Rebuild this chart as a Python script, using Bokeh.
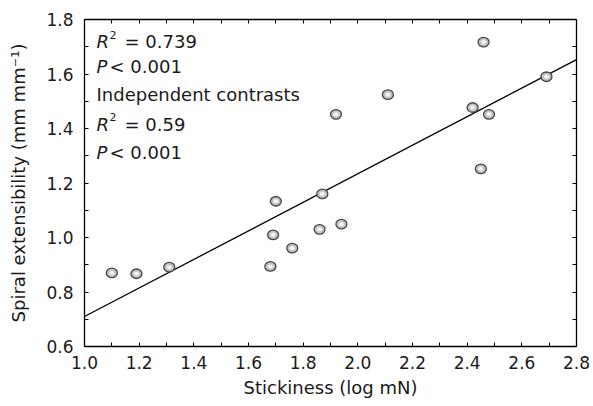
from bokeh.plotting import figure
from bokeh.models import (Range1d, LinearAxis, FixedTicker, PrintfTickFormatter,
                          Label, CustomJSTickFormatter)
from bokeh.embed import file_html
from bokeh.resources import INLINE

# Data
stickiness = [1.10, 1.19, 1.31, 1.70, 1.69, 1.68, 1.76, 1.87, 1.86, 1.94,
              2.46, 2.69, 2.42, 2.48, 2.11, 1.92, 2.45]
extensibility = [0.870, 0.867, 0.891, 1.133, 1.010, 0.894, 0.961, 1.160, 1.030, 1.049,
                 1.717, 1.590, 1.477, 1.452, 1.524, 1.452, 1.252]
fit_x = [1.0, 2.8]
fit_y = [0.710, 1.653]
x_ticks = [1.0, 1.2, 1.4, 1.6, 1.8, 2.0, 2.2, 2.4, 2.6, 2.8]
x_minor = [1.1, 1.3, 1.5, 1.7, 1.9, 2.1, 2.3, 2.5, 2.7]
y_ticks = [0.6, 0.8, 1.0, 1.2, 1.4, 1.6, 1.8]
y_minor = [0.7, 0.9, 1.1, 1.3, 1.5, 1.7]

FONT = "DejaVu Sans"
TXT = "#1a1a1a"

p = figure(width=593, height=406, output_backend="svg", toolbar_location=None,
           x_range=Range1d(1.0, 2.8), y_range=Range1d(0.6, 1.8),
           min_border_left=84, min_border_right=17, min_border_top=19, min_border_bottom=60,
           x_axis_label="Stickiness (log mN)",
           y_axis_label="Spiral extensibility (mm mm\u207b\u00b9)")
p.grid.visible = False
p.outline_line_color = None
p.background_fill_color = "white"
p.border_fill_color = "white"

p.xaxis.ticker = FixedTicker(ticks=x_ticks, minor_ticks=x_minor)
p.yaxis.ticker = FixedTicker(ticks=y_ticks, minor_ticks=y_minor)
p.xaxis.formatter = PrintfTickFormatter(format="%.1f")
p.yaxis.formatter = PrintfTickFormatter(format="%.1f")

def style(ax):
    ax.axis_line_color = "black"
    ax.axis_line_width = 1.3
    ax.major_tick_in = 4
    ax.major_tick_out = 0
    ax.minor_tick_in = 4
    ax.minor_tick_out = 0
    ax.major_tick_line_color = "black"
    ax.minor_tick_line_color = "black"
    ax.major_tick_line_width = 1
    ax.minor_tick_line_width = 1
    ax.major_label_text_font = FONT
    ax.major_label_text_font_size = "17px"
    ax.major_label_text_color = TXT
    ax.axis_label_text_font = FONT
    ax.axis_label_text_font_size = "18px"
    ax.axis_label_text_font_style = "normal"
    ax.axis_label_text_color = TXT

for ax in p.xaxis + p.yaxis:
    style(ax)
p.xaxis.major_label_standoff = 9
p.xaxis.axis_label_standoff = 5
p.yaxis.major_label_standoff = 11
p.yaxis.axis_label_standoff = 14

blank = CustomJSTickFormatter(code="return ''")
top = LinearAxis(ticker=FixedTicker(ticks=x_ticks, minor_ticks=x_minor), formatter=blank)
right = LinearAxis(ticker=FixedTicker(ticks=y_ticks, minor_ticks=y_minor), formatter=blank)
for ax in (top, right):
    style(ax)
    ax.major_label_standoff = 0
p.add_layout(top, "above")
p.add_layout(right, "right")

# regression line
p.line(fit_x, fit_y, line_color="black", line_width=1.3)

# shaded points
p.ellipse(stickiness, extensibility, width=11, height=9.5, width_units="screen",
          height_units="screen", fill_color="#c4c4c4", line_color="#444444", line_width=1.3)
p.ellipse(stickiness, extensibility, width=5, height=4, width_units="screen",
          height_units="screen", fill_color="#f6f6f6", line_color=None)

# annotations (positions in pixels relative to frame origin)
def px2x(px):
    return 1.0 + (px - 84) / 273.3

def py2y(py):
    return 1.8 - (py - 19) / 272.5

def lab(text, px, py, size="18px", italic=False):
    p.add_layout(Label(x=px2x(px), y=py2y(py), text=text, text_font=FONT,
                       text_font_size=size, text_color=TXT, text_baseline="middle",
                       text_align="left",
                       text_font_style="italic" if italic else "normal"))

lab("R", 96, 41, italic=True)
lab("2", 109, 34, size="11px")
lab("= 0.739", 124, 41)
lab("P", 96, 65.5, italic=True)
lab("< 0.001", 109, 65.5)
lab("Independent contrasts", 96, 94)
lab("R", 96, 123.5, italic=True)
lab("2", 109, 116.5, size="11px")
lab("= 0.59", 124, 123.5)
lab("P", 96, 152, italic=True)
lab("< 0.001", 109, 152)

open("out.html", "w").write(file_html(p, INLINE))
